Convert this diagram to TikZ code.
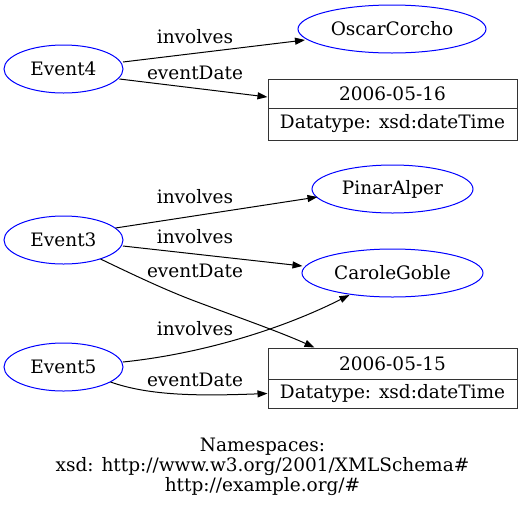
\documentclass[tikz,border=0pt]{standalone}
\usepackage{fontspec}
\setmainfont{DejaVu Serif}
\usetikzlibrary{arrows.meta,shapes.geometric,calc}
\begin{document}
\begin{tikzpicture}[x=1pt,y=-1pt,
  font=\fontsize{18.5}{20}\selectfont,
  line width=1pt,
  res/.style={draw=blue, ellipse, inner sep=0pt},
  lit/.style={draw=black!80, rectangle, inner sep=0pt, minimum width=249pt},
  edge/.style={-{Triangle[length=10pt,width=7pt]}, black},
  lbl/.style={inner sep=0pt}]
\useasboundingbox (0,0) rectangle (525,507);
% resource nodes
\node[res, minimum width=119pt, minimum height=48pt] (e4) at (63.5,69) {Event4};
\node[res, minimum width=188pt, minimum height=48pt] (oc) at (392,29) {OscarCorcho};
\node[res, minimum width=119pt, minimum height=48pt] (e3) at (63.5,240) {Event3};
\node[res, minimum width=161pt, minimum height=48pt] (pa) at (392.5,189) {PinarAlper};
\node[res, minimum width=181pt, minimum height=48pt] (cg) at (392.5,273) {CaroleGoble};
\node[res, minimum width=119pt, minimum height=48pt] (e5) at (63.5,367) {Event5};
% literal nodes
\node[lit, minimum height=29pt] (d16) at (392.5,93.5) {2006-05-16};
\node[lit, minimum height=32pt] (d16t) at (392.5,124) {Datatype: xsd:dateTime};
\node[lit, minimum height=31pt] (d15) at (392.5,363.5) {2006-05-15};
\node[lit, minimum height=29pt] (d15t) at (392.5,393.5) {Datatype: xsd:dateTime};
% edges
\draw[edge] ($(e4)+(59.5,-7)$) -- ($(oc.center)+(-87,11)$);
\draw[edge] ($(e4)+(56,10)$) -- ($(d16.west)+(0,3.5)$);
\draw[edge] ($(e3)+(52,-12)$) -- ($(pa.center)+(-75,8)$);
\draw[edge] ($(e3)+(59.5,6)$) -- ($(cg.center)+(-90,-7)$);
\draw[edge] ($(e3)+(37,19)$) .. controls (140,278) and (170,292) .. (200,303) .. controls (240,318) and (280,332) .. ($(d15.north west)+(47,0)$);
\draw[edge] ($(e5)+(59.5,-5)$) .. controls (200,354) and (280,330) .. ($(cg.center)+(-43,22)$);
\draw[edge] ($(e5)+(47,15)$) .. controls (150,396) and (200,396) .. (d15t.west);
% labels
\node[lbl] (l1) at (195,37) {involves};
\node[lbl] (l2) at (195,73) {eventDate};
\node[lbl] (l3) at (195,197) {involves};
\node[lbl] (l4) at (195,237) {involves};
\node[lbl] (l5) at (195,271) {eventDate};
\node[lbl] (l6) at (195,329) {involves};
\node[lbl] (l7) at (195,380) {eventDate};
\node[align=center, inner sep=0pt] (ns) at (262.5,467) {Namespaces:\\xsd: http://www.w3.org/2001/XMLSchema\#\\http://example.org/\#};
\end{tikzpicture}
\end{document}
